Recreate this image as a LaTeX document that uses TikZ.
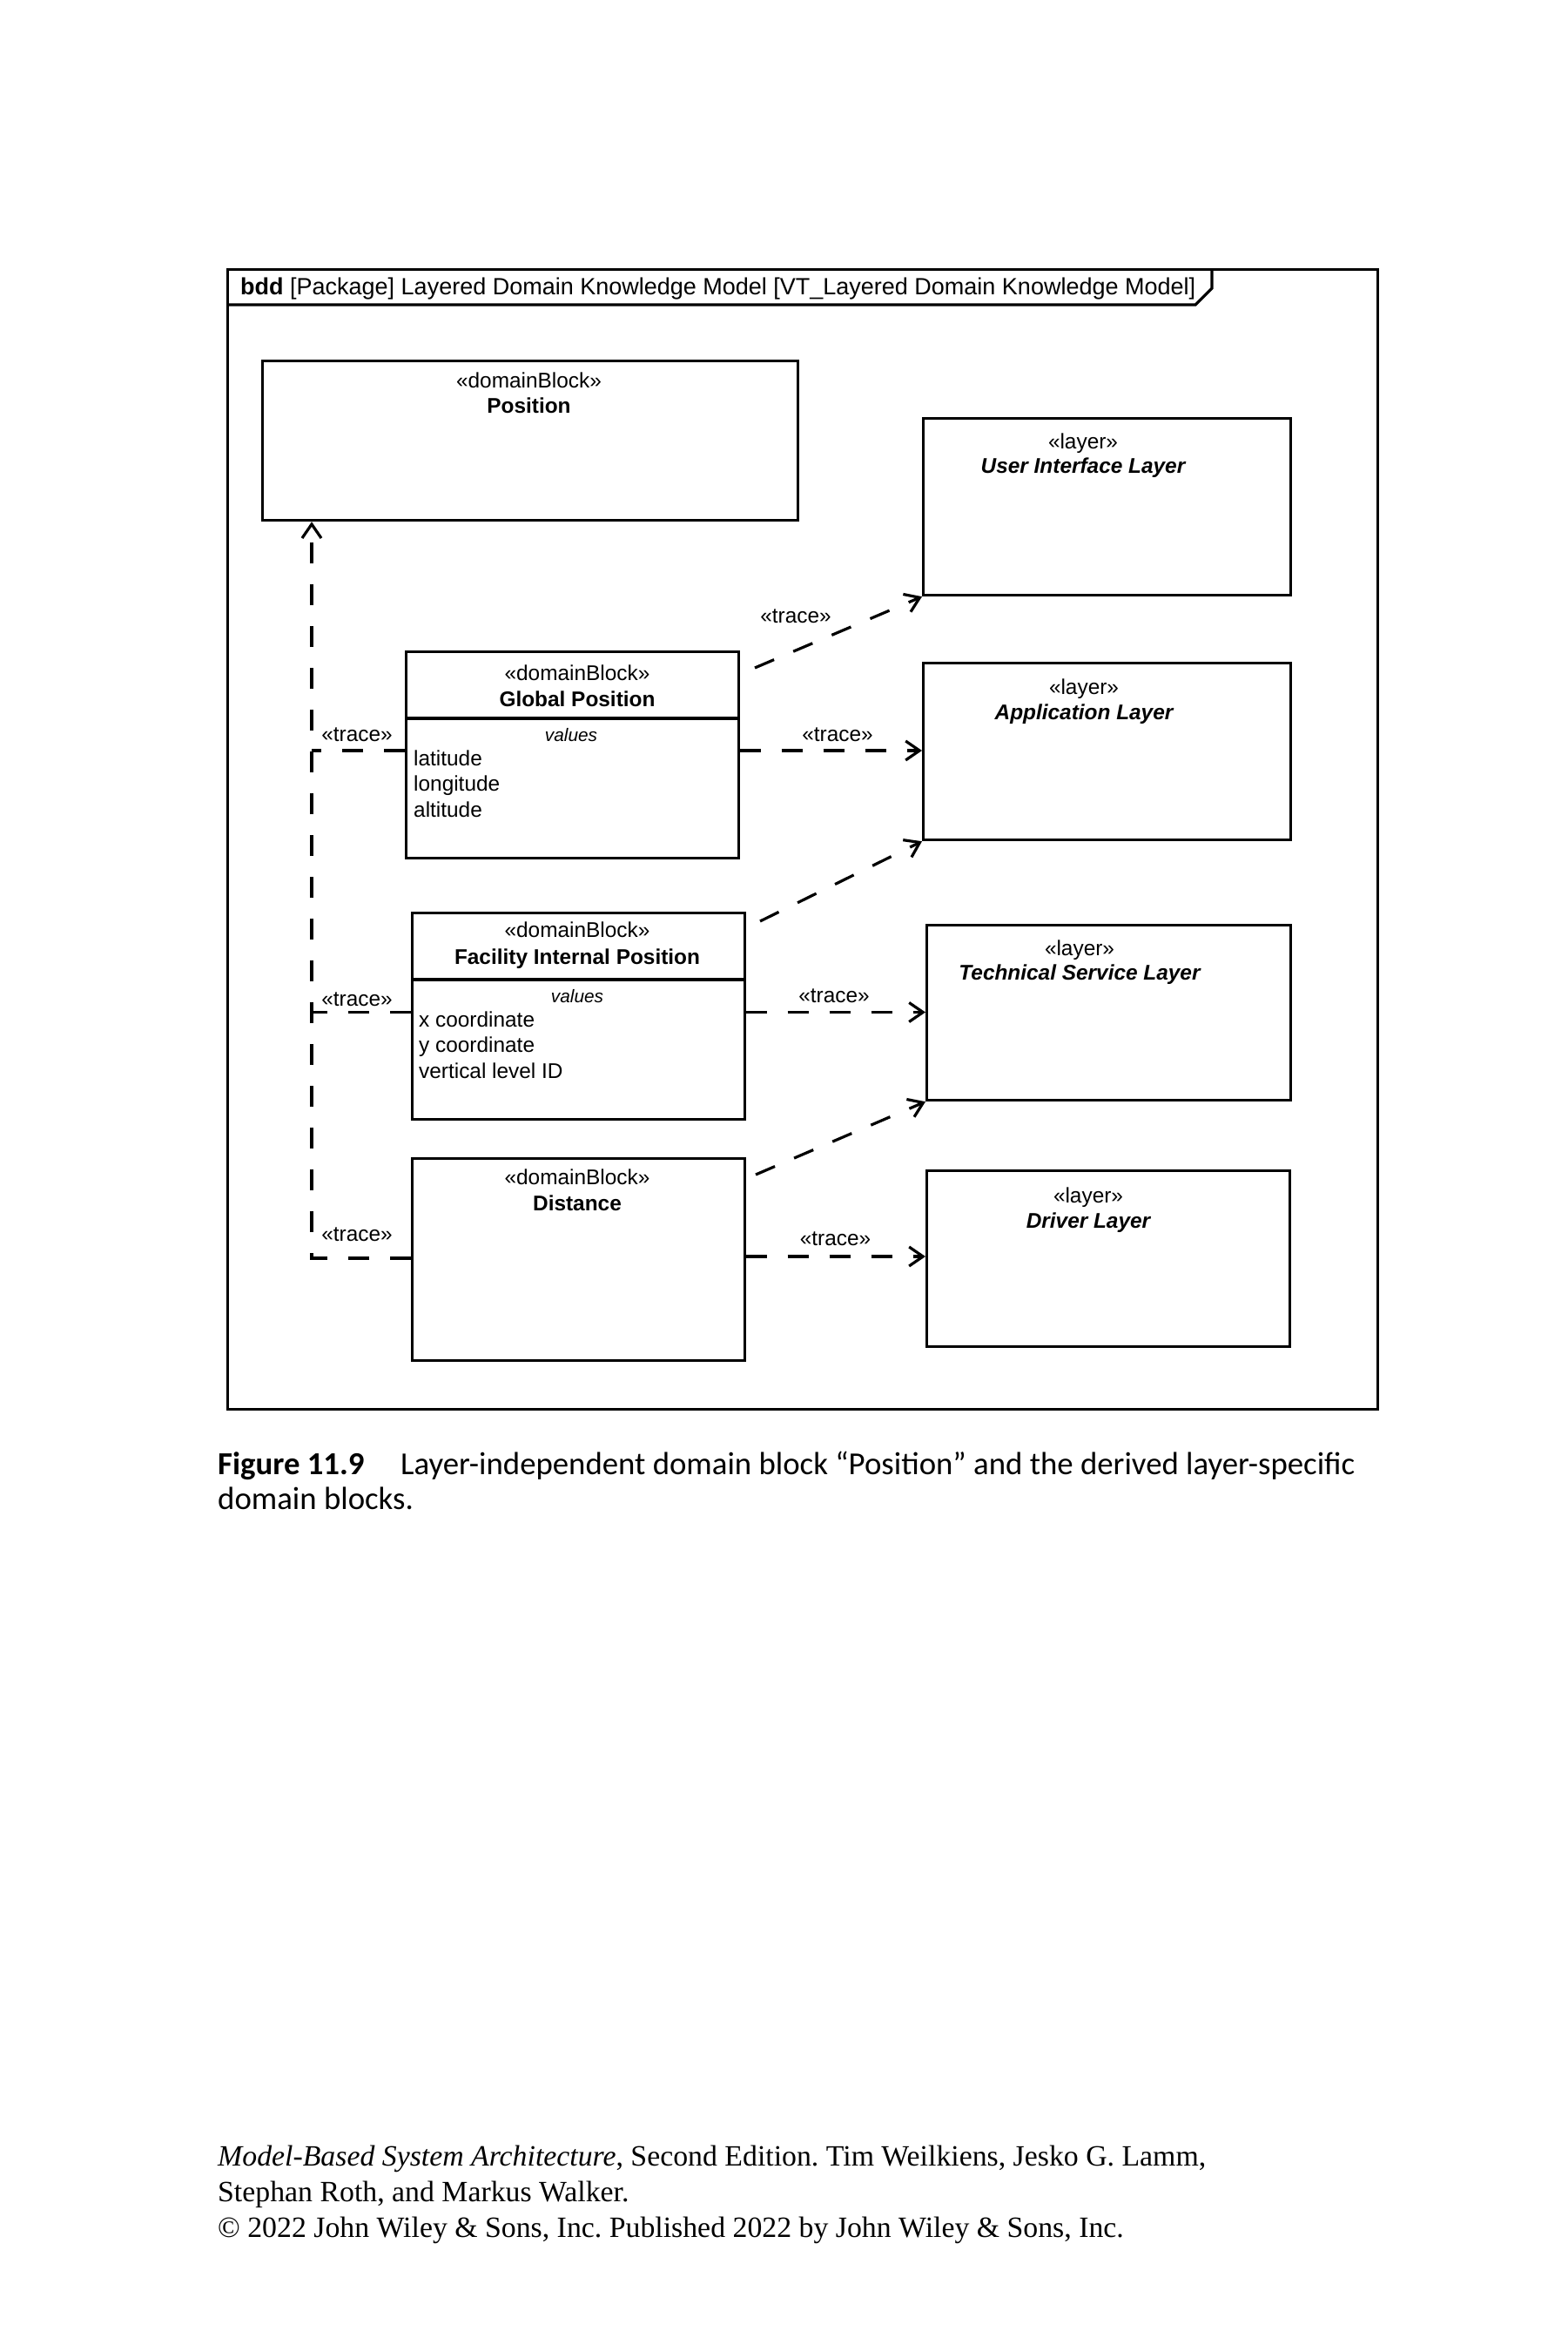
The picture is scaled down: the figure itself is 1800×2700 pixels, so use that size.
\documentclass[tikz,border=0pt]{standalone}
\usepackage{fontspec}
\setmainfont{Liberation Sans}
\newfontfamily\capfont{Carlito}
\newfontfamily\footfont{Liberation Serif}
\usetikzlibrary{arrows.meta}
\frenchspacing
\begin{document}
\begin{tikzpicture}[x=1pt,y=-1pt,
  box/.style={draw, line width=3.2pt, inner sep=0pt, anchor=north west},
  txt/.style={inner sep=0pt, anchor=base, font=\fontsize{24.4}{29}\selectfont},
  ltxt/.style={txt, anchor=base west},
  nm/.style={txt, font=\fontsize{24.4}{29}\selectfont\bfseries},
  lnm/.style={txt, font=\fontsize{24.4}{29}\selectfont\bfseries\itshape},
  vals/.style={txt, font=\fontsize{20.8}{25}\selectfont\itshape},
  dep/.style={line width=3.2pt, dash pattern=on 24pt off 24pt, -{Straight Barb[length=16pt,width=22pt]}},
  depn/.style={line width=3.2pt, dash pattern=on 24pt off 24pt},
  sep/.style={line width=3.2pt}
]
\useasboundingbox (0,0) rectangle (1800,2700);
\fill[white] (0,0) rectangle (1800,2700);

% frame
\node[box, minimum width=1321, minimum height=1309] (frame) at (260,308) {};
\draw[sep, line join=miter] (frame.west |- 0,350) -- (1373,350) -- (1392,331) -- (1392,308);
\node[ltxt, font=\fontsize{27}{32}\selectfont] (hdr) at (276,338) {\textbf{bdd} [Package] Layered Domain Knowledge Model [VT\_Layered Domain Knowledge Model]};

% domain blocks
\node[box, minimum width=615, minimum height=183] (pos) at (300,413) {};
\node[txt] (posS) at (607.5,445) {«domainBlock»};
\node[nm] (posN) at (607.5,474) {Position};

\node[box, minimum width=381.5, minimum height=237.5] (gp) at (465,746.5) {};
\draw[sep] (gp.west |- 0,825) -- (gp.east |- 0,825);
\node[txt] (gpS) at (663,781.5) {«domainBlock»};
\node[nm] (gpN) at (663,811) {Global Position};
\node[vals] (gpV) at (656,851.5) {values};
\node[ltxt] (gpA1) at (475,879) {latitude};
\node[ltxt] (gpA2) at (475,908.5) {longitude};
\node[ltxt] (gpA3) at (475,938) {altitude};

\node[box, minimum width=381.5, minimum height=237] (fip) at (472,1047) {};
\draw[sep] (fip.west |- 0,1125) -- (fip.east |- 0,1125);
\node[txt] (fipS) at (663,1076.5) {«domainBlock»};
\node[nm] (fipN) at (663,1107) {Facility Internal Position};
\node[vals] (fipV) at (663,1151.5) {values};
\node[ltxt] (fipA1) at (481,1179) {x coordinate};
\node[ltxt] (fipA2) at (481,1208.5) {y coordinate};
\node[ltxt] (fipA3) at (481,1238) {vertical level ID};

\node[box, minimum width=381.5, minimum height=231.5] (dist) at (472,1329) {};
\node[txt] (distS) at (663,1360) {«domainBlock»};
\node[nm] (distN) at (663,1390) {Distance};

% layers
\node[box, minimum width=422, minimum height=203] (ui) at (1059,479) {};
\node[txt] (uiS) at (1244,515) {«layer»};
\node[lnm] (uiN) at (1244,543) {User Interface Layer};

\node[box, minimum width=422, minimum height=203] (app) at (1059,760) {};
\node[txt] (appS) at (1245,797.5) {«layer»};
\node[lnm] (appN) at (1245,826) {Application Layer};

\node[box, minimum width=418, minimum height=201] (tsl) at (1063,1061) {};
\node[txt] (tslS) at (1240,1097) {«layer»};
\node[lnm] (tslN) at (1240,1125) {Technical Service Layer};

\node[box, minimum width=417, minimum height=202] (drv) at (1063,1343) {};
\node[txt] (drvS) at (1250,1381) {«layer»};
\node[lnm] (drvN) at (1250,1410) {Driver Layer};

% trace to Position (trunk at x=358)
\coordinate (gpT) at (358,862);
\coordinate (fipT) at (358,1162.5);
\draw[dep] (dist.west |- 0,1445) -| (pos.south -| 358,0);
\draw[depn] (gp.west |- gpT) -- (gpT);
\draw[depn] (fip.west |- fipT) -- (fipT);
\node[txt] (l1) at (410,851) {«trace»};
\node[txt] (l2) at (410,1155) {«trace»};
\node[txt] (l3) at (410,1425) {«trace»};

% trace to layers
\coordinate (gpD) at (867,767);
\coordinate (fipD) at (873,1058);
\coordinate (distD) at (868,1349);
\draw[dep] (gpD) -- (ui.south west);
\draw[dep] (gp.east |- 0,862) -- (app.west |- 0,862);
\draw[dep] (fipD) -- (app.south west);
\draw[dep] (fip.east |- 0,1162.5) -- (tsl.west |- 0,1162.5);
\draw[dep] (distD) -- (tsl.south west);
\draw[dep] (dist.east |- 0,1443) -- (drv.west |- 0,1443);
\node[txt] (r1) at (914,715) {«trace»};
\node[txt] (r2) at (962,851.5) {«trace»};
\node[txt] (r3) at (958,1151.5) {«trace»};
\node[txt] (r4) at (959.5,1430) {«trace»};

% caption
\node[inner sep=0pt, anchor=base west, font=\capfont\fontsize{36.8}{44}\selectfont\bfseries] (capA) at (250,1693) {Figure 11.9};
\node[inner sep=0pt, anchor=base west, font=\capfont\fontsize{36.8}{44}\selectfont] (capB) at (460,1693) {Layer-independent domain block “Position” and the derived layer-specific};
\node[inner sep=0pt, anchor=base west, font=\capfont\fontsize{36.8}{44}\selectfont] (capC) at (250,1733) {domain blocks.};

% footer
\node[inner sep=0pt, anchor=base west, font=\footfont\fontsize{33.8}{41}\selectfont] (f1) at (250,2487) {\textit{Model-Based System Architecture}, Second Edition. Tim Weilkiens, Jesko G. Lamm,};
\node[inner sep=0pt, anchor=base west, font=\footfont\fontsize{33.8}{41}\selectfont] (f2) at (250,2528) {Stephan Roth, and Markus Walker.};
\node[inner sep=0pt, anchor=base west, font=\footfont\fontsize{33.8}{41}\selectfont] (f3) at (250,2569) {© 2022 John Wiley \& Sons, Inc. Published 2022 by John Wiley \& Sons, Inc.};
\end{tikzpicture}
\end{document}
